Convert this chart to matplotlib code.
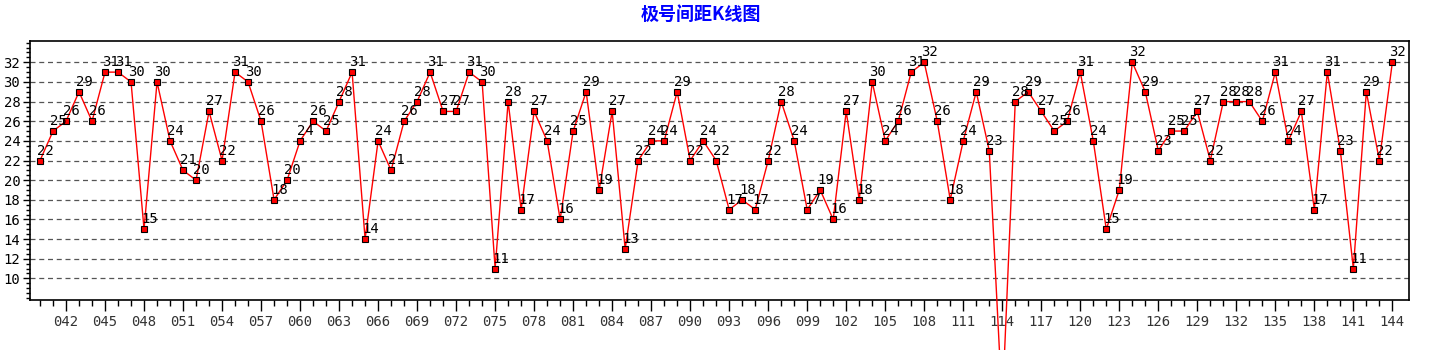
import matplotlib
matplotlib.use('Agg')
import matplotlib.pyplot as plt
from matplotlib.ticker import MultipleLocator, FixedLocator

periods = list(range(40, 145))
gaps = [22, 25, 26, 29, 26, 31, 31, 30, 15, 30,
        24, 21, 20, 27, 22, 31, 30, 26, 18, 20,
        24, 26, 25, 28, 31, 14, 24, 21, 26, 28,
        31, 27, 27, 31, 30, 11, 28, 17, 27, 24,
        16, 25, 29, 19, 27, 13, 22, 24, 24, 29,
        22, 24, 22, 17, 18, 17, 22, 28, 24, 17,
        19, 16, 27, 18, 30, 24, 26, 31, 32, 26,
        18, 24, 29, 23, -3, 28, 29, 27, 25, 26,
        31, 24, 15, 19, 32, 29, 23, 25, 25, 27,
        22, 28, 28, 28, 26, 31, 24, 27, 17, 31,
        23, 11, 29, 22, 32]
tick_periods = list(range(42, 145, 3))
tick_labels = [f"{p:03d}" for p in tick_periods]

fig = plt.figure(figsize=(14.4, 3.5), dpi=100)
ax = fig.add_axes([30 / 1440, 50 / 350, 1379 / 1440, 259.3 / 350])

ax.plot(periods, gaps, color='red', lw=1.0, marker='s', ms=4,
        mfc='red', mec='black', mew=0.8, clip_on=False, zorder=3)

for p, v in zip(periods, gaps):
    ax.annotate(str(v), (p, v), xytext=(-3, 6), textcoords='offset pixels',
                ha='left', va='baseline', fontsize=10,
                family='DejaVu Sans Mono', color='black', zorder=4)

ax.set_xlim(39.23, 145.28)
ax.set_ylim(7.8, 34.2)

ax.yaxis.set_major_locator(MultipleLocator(2))
ax.yaxis.set_minor_locator(MultipleLocator(0.5))
ax.set_yticks(range(10, 33, 2))
ax.xaxis.set_major_locator(FixedLocator(tick_periods))
ax.xaxis.set_minor_locator(FixedLocator(periods))
ax.set_xticklabels(tick_labels)

ax.tick_params(axis='y', which='major', length=5, width=1, direction='out',
               labelsize=10, pad=2)
ax.tick_params(axis='y', which='minor', length=3, width=1, direction='out')
ax.tick_params(axis='x', which='major', length=8, width=1, direction='out',
               labelsize=10, pad=3, labelcolor='#333333')
ax.tick_params(axis='x', which='minor', length=4, width=1, direction='out')
for lbl in ax.get_xticklabels() + ax.get_yticklabels():
    lbl.set_family('DejaVu Sans Mono')

ax.grid(axis='y', which='major', color='#555555', linestyle=(0, (4, 3)), lw=0.9)
for s in ax.spines.values():
    s.set_linewidth(1.2)
    s.set_color('black')

fig.text(701 / 1440, 1 - 14 / 350, '极号间距K线图', ha='center', va='center',
         fontsize=13, fontweight='bold', color='#0000ff',
         family=['Noto Sans CJK SC', 'DejaVu Sans'])

fig.savefig('out.png', dpi=100)
